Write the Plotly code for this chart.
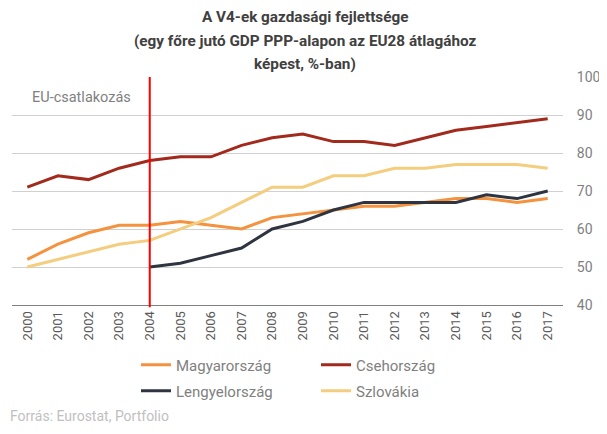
import plotly.graph_objects as go

years = list(range(2000, 2018))
magyar = [52, 56, 59, 61, 61, 62, 61, 60, 63, 64, 65, 66, 66, 67, 68, 68, 67, 68]
cseh = [71, 74, 73, 76, 78, 79, 79, 82, 84, 85, 83, 83, 82, 84, 86, 87, 88, 89]
lengyel = [None, None, None, None, 50, 51, 53, 55, 60, 62, 65, 67, 67, 67, 67, 69, 68, 70]
szlovak = [50, 52, 54, 56, 57, 60, 63, 67, 71, 71, 74, 74, 76, 76, 77, 77, 77, 76]
title_lines = ["A V4-ek gazdasági fejlettsége",
               "(egy főre jutó GDP PPP-alapon az EU28 átlagához",
               "képest, %-ban)"]

series = [
    ("Magyarország", magyar, "#F5923E", "legend"),
    ("Csehország", cseh, "#A22A1C", "legend"),
    ("Lengyelország", lengyel, "#2F3540", "legend2"),
    ("Szlovákia", szlovak, "#F4CD7E", "legend2"),
]

# The page adds an 8px body margin; the figure is sized so that its content
# lands at the reference positions.
W, H = 599, 426
ML, MR, MT, MB = 4, 44, 69, 129
PW = W - ML - MR   # 551
PH = H - MT - MB   # 228


def px_y(py):
    # page y pixel -> paper coordinate
    return (305 - py) / PH


def px_x(px):
    return (px - 12) / PW


fig = go.Figure()
for name, vals, col, lg in series:
    fig.add_trace(go.Scatter(x=years, y=vals, name=name, mode="lines",
                             legend=lg, line=dict(color=col, width=3)))

fig.add_shape(type="line", xref="x", yref="paper", x0=2004, x1=2004,
              y0=-0.01, y1=1.0, line=dict(color="#FF0000", width=2))
fig.add_annotation(xref="paper", yref="paper", x=px_x(30), y=px_y(97), xanchor="left",
                   yanchor="middle", text="EU-csatlakozás", showarrow=False,
                   font=dict(family="Roboto", size=14.5, color="#7F7F7F"))
fig.add_annotation(xref="paper", yref="paper", x=px_x(8), y=px_y(416), xanchor="left",
                   yanchor="middle", text="Forrás: Eurostat, Portfolio", showarrow=False,
                   font=dict(family="Roboto", size=14, color="#BFBFBF"))

title_y = [17, 41, 64]
for txt, py in zip(title_lines, title_y):
    fig.add_annotation(xref="paper", yref="paper", x=px_x(305), y=px_y(py),
                       xanchor="center", yanchor="middle", text="<b>" + txt + "</b>",
                       showarrow=False,
                       font=dict(family="Roboto", size=15.3, color="#404040"))

legend_common = dict(orientation="h", x=px_x(136), xanchor="left", yanchor="middle",
                     entrywidth=135, entrywidthmode="pixels",
                     font=dict(family="Roboto", size=15, color="#7F7F7F"),
                     bgcolor="rgba(0,0,0,0)")

fig.update_layout(
    width=W, height=H,
    margin=dict(l=ML, r=MR, t=MT, b=MB),
    paper_bgcolor="white", plot_bgcolor="white",
    font=dict(family="Roboto", color="#595959"),
    xaxis=dict(range=[1999.5, 2017.5], tickmode="array", tickvals=years,
               ticktext=[str(y) for y in years], tickangle=-90, showgrid=False,
               showline=True, linecolor="#808080", linewidth=1, ticks="",
               zeroline=False, tickfont=dict(size=13, color="#595959")),
    yaxis=dict(side="right", range=[40, 100], dtick=10, showgrid=True,
               gridcolor="#D0D0D0", gridwidth=1, zeroline=False,
               ticks="outside", ticklen=10, tickcolor="white",
               tickfont=dict(size=14, color="#7F7F7F")),
    legend=dict(y=px_y(365), **legend_common),
    legend2=dict(y=px_y(391), **legend_common),
    showlegend=True,
)

fig.write_html("out.html")
